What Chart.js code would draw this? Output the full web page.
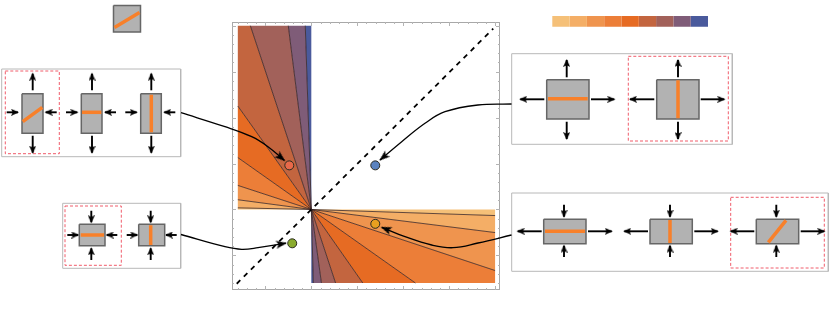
<!DOCTYPE html>
<html lang="en">
	<head>
		<meta charset="utf-8">
		<title>Deformation modes of a fibre in a strained sheet</title>
		<script src="https://cdn.jsdelivr.net/npm/chart.js"></script>
		<style>
			html, body { margin: 0; padding: 0; background: #fff; }
			#wrap { position: relative; width: 831px; height: 317px; overflow: hidden; }
			#main { position: absolute; left: 232px; top: 21.5px; }
			#overlay { position: absolute; left: 0; top: 0; }
		</style>
	</head>
	<body>
		<div id="wrap">
			<canvas id="main" width="268" height="268"></canvas>
			<canvas id="overlay" width="831" height="317"></canvas>
		</div>
		<script>
			// fan of contour lines, end points on the edge of the data region
			const upperLeftRays = [[-0.8, 0.018], [-0.8, 0.106], [-0.8, 0.262], [-0.8, 0.565], [-0.8, 1.126], [-0.664, 2], [-0.251, 2], [-0.066, 2]]
			const lowerRightRays = [[2, -0.066], [2, -0.251], [2, -0.664], [1.133, -0.8], [0.56, -0.8], [0.264, -0.8], [0.11, -0.8], [0.022, -0.8]]
			const regionColors = ["#f5c078", "#f4ae66", "#ef944e", "#ec7e38", "#e66b23", "#c3653f", "#a2615a", "#7f5c78", "#4a5a9c"]

			const modePointsX = [-0.24, 0.696, 0.696, -0.208]
			const modePointsY = [0.48, 0.48, -0.156, -0.368]
			const modePointColors = ["#e8694a", "#5b83bf", "#e9a020", "#8aab2e"]
			const diagonalEnds = [[-0.812, -0.808], [1.98, 1.968]]

			const minorTicks = [-0.8, -0.7, -0.6, -0.5, -0.4, -0.3, -0.2, -0.1, 0, 0.1, 0.2, 0.3, 0.4, 0.5, 0.6, 0.7, 0.8, 0.9, 1, 1.1, 1.2, 1.3, 1.4, 1.5, 1.6, 1.7, 1.8, 1.9, 2]
			const majorTicks = [-0.5, 0, 0.5, 1, 1.5, 2]

			const grey = "#b2b2b2", edge = "#666666", orange = "#f8802a", red = "#ee4a5a", panelEdge = "#b8b8b8"

			function pt(p) { return {x: p[0], y: p[1]} }

			// closes one wedge of the fan, corners of the region are added when the rays meet different edges
			function wedge(a, b, corner, color) {
				const pts = [{x: 0, y: 0}, pt(a)]
				if (corner) pts.push(pt(corner))
				pts.push(pt(b))
				return {data: pts, showLine: true, fill: "shape", backgroundColor: color, borderWidth: 0, borderColor: "transparent", pointRadius: 0, tension: 0}
			}

			function rayLine(p) {
				return {data: [{x: 0, y: 0}, pt(p)], showLine: true, borderColor: "rgba(50,30,30,0.85)", borderWidth: 0.9, pointRadius: 0, fill: false}
			}

			const mainSets = []
			const ulEdge = [[-0.8, 0], ...upperLeftRays, [0, 2]]
			const lrEdge = [[2, 0], ...lowerRightRays, [0, -0.8]]
			ulEdge.slice(0, -1).forEach((p, i) => {
				const q = ulEdge[i + 1]
				const corner = p[0] === -0.8 && q[1] === 2 ? [-0.8, 2] : null
				mainSets.push(wedge(p, q, corner, regionColors[i]))
			})
			lrEdge.slice(0, -1).forEach((p, i) => {
				const q = lrEdge[i + 1]
				const corner = p[0] === 2 && q[1] === -0.8 ? [2, -0.8] : null
				mainSets.push(wedge(p, q, corner, regionColors[i]))
			})
			upperLeftRays.concat(lowerRightRays).forEach(p => mainSets.push(rayLine(p)))
			mainSets.push({data: diagonalEnds.map(pt), showLine: true, borderColor: "#000", borderWidth: 1.8, borderDash: [5, 5], pointRadius: 0, fill: false})
			mainSets.push({
				data: modePointsX.map((x, i) => ({x: x, y: modePointsY[i]})),
				showLine: false,
				pointRadius: 4.5,
				pointBackgroundColor: modePointColors,
				pointBorderColor: "#2b2b1f",
				pointBorderWidth: 1
			})

			// frame and inward ticks on all four sides
			const frameTicks = {
				id: "frameTicks",
				afterDatasetsDraw(chart) {
					const {ctx, chartArea: a, scales: {x, y}} = chart
					ctx.save()
					ctx.strokeStyle = "#a8a8a8"
					ctx.lineWidth = 1
					ctx.strokeRect(a.left + 0.5, a.top + 0.5, a.right - a.left - 1, a.bottom - a.top - 1)
					ctx.strokeStyle = "#b4b4b4"
					minorTicks.forEach(t => {
						const len = majorTicks.includes(t) ? 4 : 2
						const px = Math.round(x.getPixelForValue(t)) + 0.5
						const py = Math.round(y.getPixelForValue(t)) + 0.5
						ctx.beginPath()
						ctx.moveTo(px, a.top); ctx.lineTo(px, a.top + len)
						ctx.moveTo(px, a.bottom); ctx.lineTo(px, a.bottom - len)
						ctx.moveTo(a.left, py); ctx.lineTo(a.left + len, py)
						ctx.moveTo(a.right, py); ctx.lineTo(a.right - len, py)
						ctx.stroke()
					})
					ctx.restore()
				}
			}

			// chart.js paints the first dataset last, so the lists are reversed
			new Chart(document.getElementById("main").getContext("2d"), {
				type: "scatter",
				data: {datasets: mainSets.reverse()},
				options: {
					responsive: false,
					animation: false,
					layout: {padding: 0, autoPadding: false},
					plugins: {legend: {display: false}, tooltip: {enabled: false}},
					scales: {
						x: {type: "linear", min: -0.8635, max: 2.0535, display: false},
						y: {type: "linear", min: -0.876, max: 2.04, display: false}
					}
				},
				plugins: [frameTicks]
			})

			// arrow head sprite, the tip sits in the middle of the sprite and points to +x
			function headSprite(len, wide) {
				const c = document.createElement("canvas")
				c.width = len * 2
				c.height = wide
				const g = c.getContext("2d")
				g.fillStyle = "#000"
				g.beginPath()
				g.moveTo(len + 1, wide / 2)
				g.lineTo(0, 0)
				g.lineTo(len * 0.25, wide / 2)
				g.lineTo(0, wide)
				g.closePath()
				g.fill()
				return c
			}
			const smallHead = headSprite(7, 7)
			const bigHead = headSprite(10, 8)

			function rect(x1, y1, x2, y2, stroke, width, fillColor, dash) {
				return {
					data: [[x1, y1], [x2, y1], [x2, y2], [x1, y2], [x1, y1]].map(pt),
					showLine: true, pointRadius: 0,
					borderColor: stroke, borderWidth: width, borderDash: dash || [],
					fill: fillColor ? "shape" : false, backgroundColor: fillColor || "transparent"
				}
			}

			function bar(x1, y1, x2, y2) {
				return {data: [pt([x1, y1]), pt([x2, y2])], showLine: true, borderColor: orange, borderWidth: 3.5, pointRadius: 0, borderCapStyle: "butt"}
			}

			function arrow(x1, y1, x2, y2) {
				const angle = Math.atan2(y2 - y1, x2 - x1) * 180 / Math.PI
				return {
					data: [pt([x1, y1]), pt([x2, y2])],
					showLine: true, borderColor: "#000", borderWidth: 1.9,
					pointRadius: [0, 4],
					pointStyle: smallHead,
					pointRotation: angle
				}
			}

			function connector(path) {
				const n = path.length
				const angle = Math.atan2(path[n - 1][1] - path[n - 2][1], path[n - 1][0] - path[n - 2][0]) * 180 / Math.PI
				return {
					data: path.map(pt),
					showLine: true, borderColor: "#000", borderWidth: 1.3, tension: 0.4,
					pointRadius: path.map((p, i) => i === n - 1 ? 4 : 0),
					pointStyle: bigHead,
					pointRotation: angle
				}
			}

			// one small sheet: grey box, orange fibre and the four strain arrows
			function sheet(b, fibre, arrows) {
				const sets = [bar(...fibre), rect(b[0], b[1], b[2], b[3], edge, 1.5, grey)]
				arrows.forEach(a => sets.push(arrow(...a)))
				return sets
			}

			const panels = [[1.7, 69, 180.7, 156.7], [62.7, 203.3, 180.7, 268.3], [511.7, 53.7, 732.3, 144.3], [511.7, 193, 828.3, 271.3]]
			const chosen = [[5.3, 71, 59.3, 153.7], [65, 206, 121.3, 265.3], [628.3, 56.3, 728.3, 141], [730.7, 197.3, 824.3, 268]]

			const overlaySets = []
			const connectors = [
				[[181, 112.7], [225, 126.7], [251.7, 136.7], [268, 146.7], [284.5, 160.5]],
				[[181, 234.5], [225, 246.7], [241.7, 249.3], [258, 247.7], [286, 243.2]],
				[[511.5, 104], [478, 105], [445, 111.7], [425, 123.3], [401.7, 141.7], [380, 160]],
				[[511.5, 235], [478, 243], [453, 247.7], [431.7, 245], [405, 236.7], [381.7, 227.3]]
			]
			connectors.forEach(c => overlaySets.push(connector(c)))

			const sheets = [
				// lone sheet at the top
				[[113.5, 5.5, 140.5, 32], [114.5, 27.5, 139.5, 12.5], []],
				// top left
				[[22, 93.7, 43, 133.3], [22.7, 121.7, 42.3, 107.3], [[32.7, 90.3, 32.7, 73.7], [32.7, 135.7, 32.7, 152.7], [6.7, 112.3, 18, 112.3], [56.7, 112.3, 45.7, 112.3]]],
				[[81.3, 93.7, 102, 133.3], [82, 112.3, 101.3, 112.3], [[92, 90.3, 92, 73.7], [92, 135.7, 92, 152.7], [66, 112.3, 77.3, 112.3], [116, 112.3, 105, 112.3]]],
				[[140.7, 93.7, 161.3, 133.3], [151.3, 94.7, 151.3, 132.3], [[151.3, 90.3, 151.3, 73.7], [151.3, 135.7, 151.3, 152.7], [125.3, 112.3, 136.7, 112.3], [175.3, 112.3, 164.3, 112.3]]],
				// bottom left
				[[79.3, 224.3, 105, 245.7], [80.7, 235, 104, 235], [[91.3, 210.7, 91.3, 222.3], [91.3, 260, 91.3, 248.3], [67.3, 235, 78.3, 235], [117.3, 235, 106.7, 235]]],
				[[138.7, 224.3, 164.7, 245.7], [150.7, 225.3, 150.7, 245], [[150.7, 210.7, 150.7, 222.3], [150.7, 260, 150.7, 248.3], [126.7, 235, 137.3, 235], [176.7, 235, 166, 235]]],
				// top right
				[[546.7, 79.7, 589, 119], [548, 98.7, 587.7, 98.7], [[566.7, 77.3, 566.7, 60], [566.7, 121.7, 566.7, 139], [544.3, 99.3, 520.3, 99.3], [591, 99.3, 614.3, 99.3]]],
				[[656.7, 79.7, 699, 119], [678, 80.3, 678, 118.3], [[678, 77.3, 678, 60], [678, 121.7, 678, 139], [654.3, 99.3, 630, 99.3], [700.7, 99.3, 724.3, 99.3]]],
				// bottom right
				[[543.7, 219.3, 586, 243.7], [545, 231.3, 585, 231.3], [[564, 204.7, 564, 216.7], [564, 257, 564, 245.7], [541.7, 231.3, 517.7, 231.3], [588, 231.3, 611.7, 231.3]]],
				[[650, 219.3, 692.3, 243.7], [670, 220, 670, 243], [[670, 204.7, 670, 216.7], [670, 257, 670, 245.7], [648, 231.3, 624.3, 231.3], [694.3, 231.3, 717.7, 231.3]]],
				[[756.3, 219.3, 798.7, 243.7], [768.3, 242.3, 786, 220.3], [[776.3, 204.7, 776.3, 216.7], [776.3, 257, 776.3, 245.7], [754.3, 231.3, 730.7, 231.3], [800.7, 231.3, 824.3, 231.3]]]
			]
			sheets.forEach(s => overlaySets.push(...sheet(...s)))

			regionColors.forEach((c, i) => {
				overlaySets.push(rect(552.3 + i * 17.3, 16, 552.3 + (i + 1) * 17.3, 26.7, c, 0, c))
			})
			chosen.forEach(p => overlaySets.push(rect(...p, red, 0.9, null, [3, 2])))
			panels.forEach(p => overlaySets.push(rect(...p, panelEdge, 1)))

			new Chart(document.getElementById("overlay").getContext("2d"), {
				type: "scatter",
				data: {datasets: overlaySets},
				options: {
					responsive: false,
					animation: false,
					layout: {padding: 0, autoPadding: false},
					plugins: {legend: {display: false}, tooltip: {enabled: false}},
					scales: {
						x: {type: "linear", min: 0, max: 831, display: false},
						y: {type: "linear", min: 0, max: 317, reverse: true, display: false}
					}
				}
			})
		</script>
	</body>
</html>
